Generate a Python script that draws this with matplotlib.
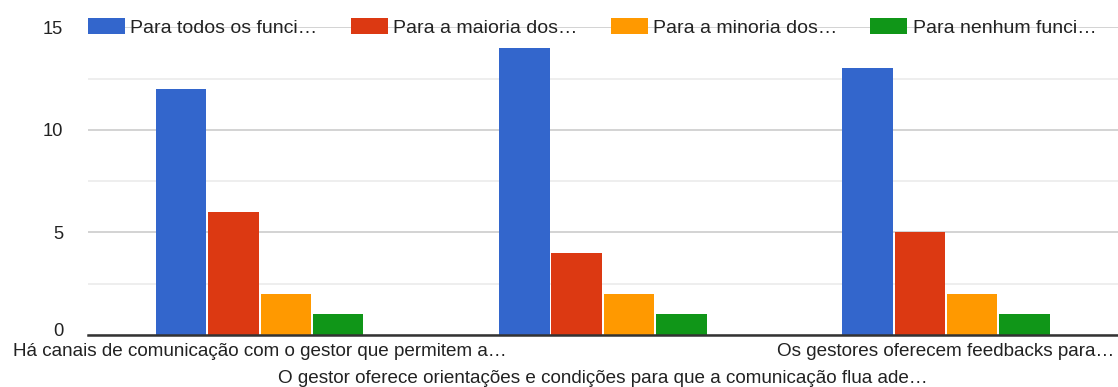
import matplotlib
matplotlib.use("Agg")
import matplotlib.pyplot as plt
from matplotlib.patches import Patch
from matplotlib.transforms import ScaledTranslation
import numpy as np

plt.rcParams['font.family'] = ['Liberation Sans', 'DejaVu Sans']

categories = [
    "Há canais de comunicação com o gestor que permitem a…",
    "O gestor oferece orientações e condições para que a comunicação flua ade…",
    "Os gestores oferecem feedbacks para…",
]
series_names = [
    "Para todos os funci…",
    "Para a maioria dos…",
    "Para a minoria dos…",
    "Para nenhum funci…",
]
values = [
    [12, 14, 13],
    [6, 4, 5],
    [2, 2, 2],
    [1, 1, 1],
]
colors = ["#3366cc", "#dc3912", "#ff9900", "#109618"]
y_ticks = [0, 5, 10, 15]

fig = plt.figure(figsize=(11.18, 3.87), dpi=100)
ax = fig.add_axes([88 / 1118, 0.1344, 1030 / 1118, 0.7946])

x = np.arange(len(categories))
step = 0.1525
width = 0.147
n = len(series_names)
for i, (name, vals, col) in enumerate(zip(series_names, values, colors)):
    offs = (i - (n - 1) / 2) * step
    ax.bar(x + offs, vals, width=width, color=col, zorder=3, label=name)

ax.set_xlim(-0.5, 2.501)
ax.set_ylim(0, 15)

# gridlines: major every 5, minor at the halves
ax.set_yticks(y_ticks)
ax.set_yticks([2.5, 7.5, 12.5], minor=True)
ax.grid(axis='y', which='major', color='#cccccc', linewidth=1.2, zorder=0)
ax.grid(axis='y', which='minor', color='#ebebeb', linewidth=1.2, zorder=0)
ax.tick_params(axis='y', which='both', length=0, pad=18, labelsize=13.2, labelcolor='#222222')

# nudge the "0" label up a little so it clears the category labels
zero_label = ax.yaxis.get_major_ticks()[0].label1
zero_label.set_va('center')
zero_label.set_transform(zero_label.get_transform() + ScaledTranslation(0, 0.035, fig.dpi_scale_trans))

for s in ['left', 'right', 'top']:
    ax.spines[s].set_visible(False)
ax.spines['bottom'].set_color('#333333')
ax.spines['bottom'].set_linewidth(1.8)
ax.spines['bottom'].set_zorder(4)

ax.set_xticks(x)
ax.set_xticklabels(categories)
ax.tick_params(axis='x', length=0, labelsize=13.6, labelcolor='#222222', pad=5.5)
ticks = ax.xaxis.get_major_ticks()
ticks[1].set_pad(25)

handles = [Patch(facecolor=c, edgecolor='none') for c in colors]
leg = ax.legend(handles, series_names, loc='center left', bbox_to_anchor=(0.0, 1.0),
                ncol=4, frameon=False, fontsize=14, handlelength=1.9,
                handleheight=0.88, handletextpad=0.28, columnspacing=1.7,
                borderaxespad=0, borderpad=0)
for t in leg.get_texts():
    t.set_color('#222222')

fig.savefig("out.png", dpi=100, facecolor='white')
